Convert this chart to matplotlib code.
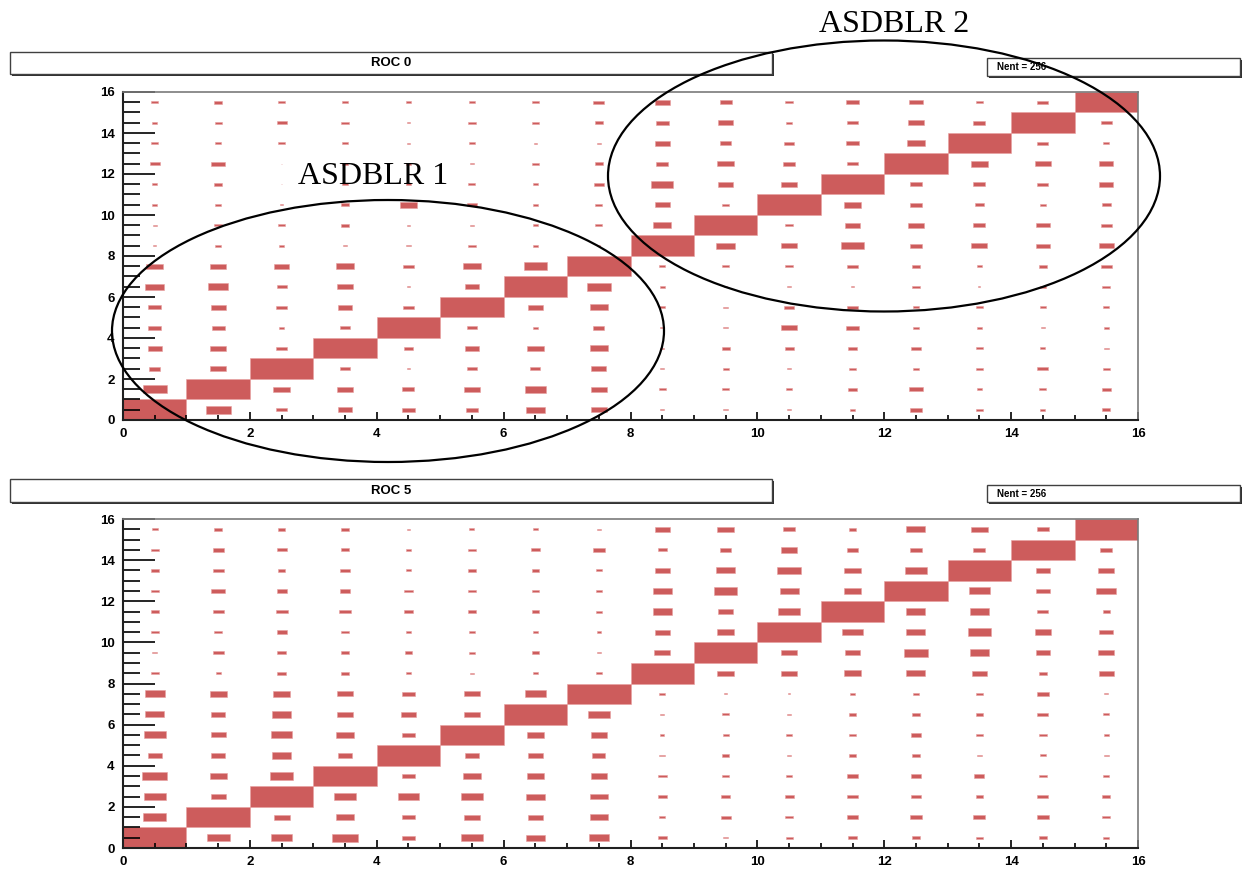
import matplotlib
matplotlib.use("Agg")
import matplotlib.pyplot as plt
import numpy as np
from matplotlib.patches import Ellipse, Rectangle
from matplotlib.ticker import MultipleLocator

W, H = 1243, 871

# relative channel response in percent, one list per x channel,
# each list running from y = 15 down to y = 0
roc0 = [
    [11, 8, 11, 16, 8, 8, 6, 5, 26, 30, 20, 21, 22, 18, 38, 100],
    [13, 11, 9, 21, 13, 9, 12, 9, 26, 32, 24, 20, 25, 25, 100, 39],
    [12, 16, 12, 2, 2, 6, 10, 8, 23, 16, 17, 8, 17, 100, 26, 17],
    [8, 12, 10, 8, 8, 14, 14, 6, 28, 26, 23, 16, 100, 16, 26, 23],
    [8, 5, 5, 8, 8, 28, 5, 7, 17, 6, 16, 100, 14, 5, 19, 21],
    [9, 12, 9, 7, 11, 15, 6, 12, 28, 22, 100, 16, 23, 17, 25, 19],
    [11, 12, 4, 12, 8, 8, 8, 8, 37, 100, 23, 8, 26, 16, 34, 30],
    [17, 13, 7, 13, 15, 11, 11, 5, 100, 37, 28, 18, 28, 23, 26, 26],
    [23, 21, 24, 19, 35, 24, 28, 100, 9, 8, 9, 6, 6, 6, 11, 6],
    [19, 23, 18, 26, 23, 11, 100, 29, 11, 4, 7, 7, 13, 9, 11, 7],
    [12, 10, 15, 19, 26, 100, 12, 24, 12, 7, 15, 26, 14, 6, 10, 7],
    [20, 17, 20, 17, 100, 28, 24, 35, 17, 6, 17, 21, 14, 10, 14, 9],
    [21, 26, 28, 100, 19, 19, 26, 19, 14, 12, 10, 9, 16, 10, 21, 18],
    [12, 19, 100, 28, 19, 15, 19, 25, 8, 3, 12, 8, 10, 11, 8, 11],
    [17, 100, 17, 25, 17, 10, 21, 21, 13, 10, 10, 6, 8, 17, 11, 8],
    [100, 17, 9, 22, 22, 14, 17, 23, 17, 12, 10, 8, 7, 11, 14, 13],
]

roc5 = [
    [9, 13, 12, 13, 13, 12, 7, 12, 32, 30, 34, 22, 39, 34, 36, 100],
    [13, 17, 17, 21, 17, 13, 17, 8, 27, 21, 24, 21, 27, 24, 100, 36],
    [12, 16, 12, 16, 19, 16, 14, 14, 28, 31, 34, 31, 36, 100, 25, 34],
    [12, 14, 16, 16, 19, 12, 12, 14, 25, 26, 28, 21, 100, 34, 28, 41],
    [6, 9, 9, 14, 14, 8, 12, 9, 21, 24, 21, 100, 21, 32, 21, 21],
    [8, 12, 13, 13, 13, 10, 10, 6, 26, 26, 100, 23, 28, 34, 24, 34],
    [8, 15, 12, 12, 12, 8, 12, 8, 34, 100, 26, 23, 26, 30, 23, 30],
    [6, 19, 10, 10, 10, 6, 6, 10, 100, 35, 26, 21, 25, 28, 28, 32],
    [24, 14, 24, 30, 30, 24, 26, 100, 9, 6, 6, 9, 14, 14, 9, 14],
    [26, 18, 29, 37, 23, 26, 100, 26, 5, 11, 9, 11, 11, 14, 16, 7],
    [19, 26, 37, 30, 34, 100, 26, 26, 4, 7, 9, 7, 10, 14, 13, 11],
    [12, 17, 28, 28, 100, 32, 24, 28, 9, 12, 12, 12, 17, 17, 17, 13],
    [30, 19, 35, 100, 30, 30, 39, 30, 9, 12, 16, 12, 16, 16, 19, 14],
    [27, 19, 100, 34, 31, 37, 31, 23, 12, 12, 12, 8, 16, 12, 19, 11],
    [19, 100, 21, 21, 17, 26, 21, 13, 19, 17, 12, 10, 13, 17, 19, 13],
    [100, 19, 25, 31, 11, 22, 25, 23, 6, 9, 8, 8, 10, 13, 13, 9],
]

titles = ["ROC 0", "ROC 5"]
nent = [256, 256]

BOX = "#cd5c5c"
TICKFONT = dict(family="Liberation Sans", weight="bold", size=9.5)


def fx(px):
    return px / W


def fy(py):
    return 1 - py / H


def draw_boxes(ax, z):
    z = np.array(z, float)[:, ::-1]          # -> [x][y], y ascending
    zmax = z.max()
    xs, ys = np.meshgrid(np.arange(16), np.arange(16), indexing="ij")
    s = (z / zmax).ravel()
    ax.bar(xs.ravel() + 0.5, s, width=s, bottom=ys.ravel() + 0.5 - s / 2,
           color=BOX, edgecolor="#e8a0a0", linewidth=0.4)
    ax.set_xlim(0, 16)
    ax.set_ylim(0, 16)
    ax.set_xticks(range(0, 17, 2))
    ax.set_yticks(range(0, 17, 2))
    ax.xaxis.set_minor_locator(MultipleLocator(0.5))
    ax.yaxis.set_minor_locator(MultipleLocator(0.5))
    ax.tick_params(axis="y", which="major", direction="in", length=23,
                   width=1.2, pad=6)
    ax.tick_params(axis="y", which="minor", direction="in", length=12,
                   width=1.2)
    ax.tick_params(axis="x", which="major", direction="in", length=6,
                   width=1.2, pad=6)
    ax.tick_params(axis="x", which="minor", direction="in", length=3.5,
                   width=1.2)
    for lab in ax.get_xticklabels() + ax.get_yticklabels():
        lab.set(**TICKFONT)
    for side in ("left", "bottom"):
        ax.spines[side].set_linewidth(1.5)
        ax.spines[side].set_color("#202020")
    for side in ("top", "right"):
        ax.spines[side].set_linewidth(1.2)
        ax.spines[side].set_color("#7a7a7a")


def pave(fig, x0, y0, x1, y1, text, ha, size):
    # ROOT-style pave: white box with a dark drop shadow
    sh = Rectangle((fx(x0 + 2), fy(y1 + 2)), fx(x1 - x0), (y1 - y0) / H,
                   transform=fig.transFigure, facecolor="#303030",
                   edgecolor="none", zorder=3)
    box = Rectangle((fx(x0), fy(y1)), fx(x1 - x0), (y1 - y0) / H,
                    transform=fig.transFigure, facecolor="white",
                    edgecolor="#404040", linewidth=1.0, zorder=4)
    fig.add_artist(sh)
    fig.add_artist(box)
    tx = (x0 + x1) / 2 if ha == "center" else x0 + 10
    fig.text(fx(tx), fy((y0 + y1) / 2), text, ha=ha, va="center",
             family="Liberation Sans", weight="bold", size=size, zorder=5)


fig = plt.figure(figsize=(W / 100, H / 100), dpi=100)

ax0 = fig.add_axes([fx(123), fy(420), fx(1138) - fx(123), 328 / H])
draw_boxes(ax0, roc0)
ax1 = fig.add_axes([fx(123), fy(848), fx(1138) - fx(123), 329 / H])
draw_boxes(ax1, roc5)

pave(fig, 10, 52, 772, 74, titles[0], "center", 9.5)
pave(fig, 987, 58, 1240, 76, f"Nent = {nent[0]}", "left", 7)
pave(fig, 10, 479, 772, 502, titles[1], "center", 9.5)
pave(fig, 987, 485, 1240, 502, f"Nent = {nent[1]}", "left", 7)

# chip groupings on ROC 0
for cx, cy, w, h in [(388, 331, 552, 262), (884, 176, 552, 271)]:
    fig.add_artist(Ellipse((fx(cx), fy(cy)), w / W, h / H,
                           transform=fig.transFigure, fill=False,
                           edgecolor="black", linewidth=1.6, zorder=6))
fig.text(fx(373), fy(177), "ASDBLR 1", ha="center", va="center",
         family="Liberation Serif", size=23, zorder=7)
fig.text(fx(894), fy(24), "ASDBLR 2", ha="center", va="center",
         family="Liberation Serif", size=23, zorder=7)

fig.savefig("out.png", dpi=100)
